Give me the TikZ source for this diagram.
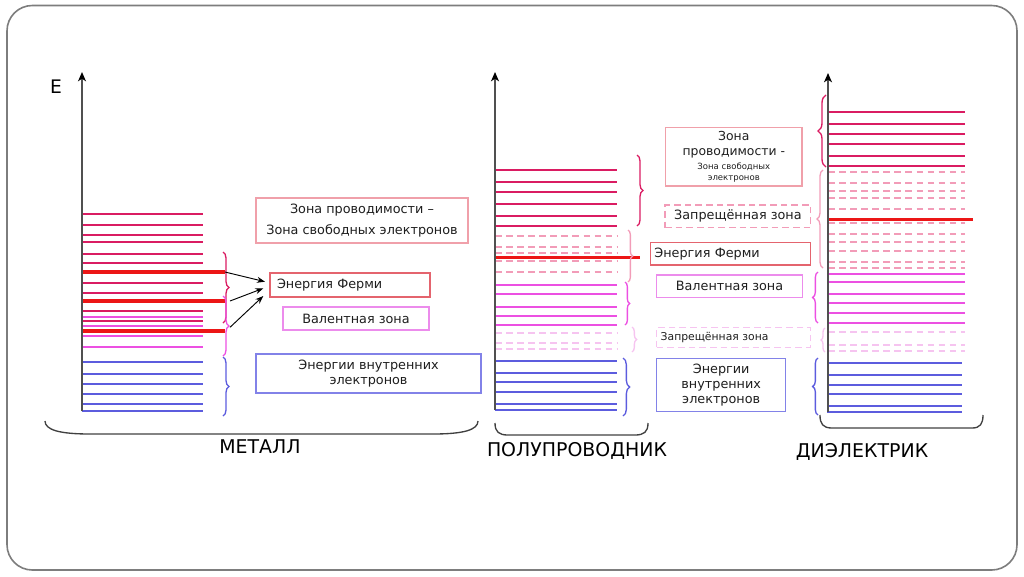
\documentclass[tikz,border=0pt]{standalone}
\usepackage{fontspec}
\setmainfont{DejaVu Sans}
\usetikzlibrary{decorations.pathreplacing,arrows.meta}
\definecolor{crim}{RGB}{218,28,98}
\definecolor{fred}{RGB}{236,22,22}
\definecolor{mag}{RGB}{236,80,226}
\definecolor{lpink}{RGB}{242,156,184}
\definecolor{vlpink}{RGB}{246,196,240}
\definecolor{bluel}{RGB}{92,92,222}
\definecolor{axisc}{RGB}{80,80,80}
\definecolor{framec}{RGB}{125,125,125}
\definecolor{b1c}{RGB}{240,160,170}
\definecolor{bfc}{RGB}{228,100,110}
\definecolor{bvc}{RGB}{236,140,236}
\definecolor{bbc}{RGB}{130,130,232}
\definecolor{txtc}{RGB}{30,30,30}
\begin{document}
\begin{tikzpicture}[x=0.75pt,y=-0.75pt,
  band/.style={line width=1.5pt},
  dband/.style={line width=1.5pt,dash pattern=on 4.9pt off 3.4pt},
  fermi/.style={line width=2.3pt,fred},
  ax/.style={line width=1.1pt,axisc,-{Stealth[length=7pt,width=6pt,inset=2pt,black]}},
  br/.style={line width=1pt,decorate,decoration={brace,amplitude=#1}},
  bk/.style={line width=1pt,black!75},
  arr/.style={line width=0.7pt,black,-{Stealth[length=6pt,width=4.5pt]}},
  box/.style={draw,line width=0.9pt,inner sep=0pt,text=txtc,align=center},
  dbox/.style={box,dash pattern=on 5pt off 3pt},
  lbl/.style={font=\fontsize{14.2}{17}\selectfont,text=black}]
\useasboundingbox (0,0) rectangle (1024,576);
\draw[framec,line width=1.2pt,rounded corners=19pt] (7,5.5) rectangle (1017,570);

% ---------------- METAL ----------------
\foreach \y in {213.7,225.3,235,241.7,253.7,263.3,283,292.7,311,321}
  \draw[band,crim] (82,\y) -- (203,\y);
\foreach \y in {316.7,326,336,347.3}
  \draw[band,mag] (82,\y) -- (203,\y);
\foreach \y in {362,374,383.7,393.7,404.3,411.3}
  \draw[band,bluel] (82,\y) -- (203,\y);
\draw[fermi] (82,272) -- (225,272) coordinate (mf1);
\draw[fermi] (82,301) -- (225,301) coordinate (mf2);
\draw[fermi] (82,331) -- (225,331) coordinate (mf3);
\draw[ax] (82,411.3) coordinate (ma0) -- (82,72) coordinate (ma1);
\node[font=\fontsize{14}{16}\selectfont] (Elbl) at (56,87) {E};
\draw[br=4.5pt,crim] (223,252) -- (223,323);
\draw[br=4.5pt,mag] (223,296) -- (223,356);
\draw[br=4.5pt,bluel] (223,357) -- (223,416);

\node[box,draw=b1c,minimum width=159pt,minimum height=33.75pt,
  font=\fontsize{9.6}{16.2}\selectfont] (mcond) at (362,220.5)
  {Зона проводимости –\\Зона свободных электронов};
\node[box,draw=bfc,minimum width=120pt,minimum height=18pt,
  font=\fontsize{9.6}{11}\selectfont,text width=109.5pt,align=left,inner xsep=5.25pt] (mferm) at (350,285)
  {Энергия Ферми};
\node[box,draw=bvc,minimum width=109.5pt,minimum height=17.25pt,
  font=\fontsize{9.6}{11}\selectfont] (mval) at (356,318.5) {Валентная зона};
\node[box,draw=bbc,minimum width=168.75pt,minimum height=29.25pt,
  font=\fontsize{9.6}{11.25}\selectfont] (minner) at (368.5,373.5)
  {Энергии внутренних\\электронов};
\coordinate (t1) at (265,281.7);
\coordinate (t2) at (263.3,288.3);
\coordinate (t3) at (263.3,296);
\coordinate (s2) at (230,301);
\coordinate (s3) at (230,327.3);
\draw[arr] (mf1) -- (t1);
\draw[arr] (s2) -- (t2);
\draw[arr] (s3) -- (t3);

\draw[bk] (45,421) .. controls (45,430) and (60,434) .. (90,434) -- (433,434)
  .. controls (463,434) and (478,430) .. (478,421);
\node[lbl] (metal) at (260,447) {МЕТАЛЛ};

% ---------------- SEMICONDUCTOR ----------------
\foreach \y in {170,181.7,191.7,204.3,216,225.7}
  \draw[band,crim] (495,\y) -- (617,\y);
\foreach \y in {236,246.7,253.3,261.3,272}
  \draw[dband,lpink] (495,\y) -- (617,\y);
\foreach \y in {285,294.3,306.7,316,325}
  \draw[band,mag] (495,\y) -- (617,\y);
\foreach \y in {332.7,342.7,349.3}
  \draw[dband,vlpink] (495,\y) -- (617,\y);
\foreach \y in {360.7,372.7,382.3,392.3,404,410}
  \draw[band,bluel] (495,\y) -- (617,\y);
\draw[fermi] (495,257.7) -- (640,257.7);
\draw[ax] (495,410) coordinate (sa0) -- (495,72) coordinate (sa1);
\draw[br=4.5pt,crim] (637,155) -- (637,226);
\draw[br=3.5pt,lpink] (628,230) -- (628,282);
\draw[br=3.5pt,mag] (625,282) -- (625,325);
\draw[br=3.5pt,vlpink] (632,327) -- (632,352);
\draw[br=5pt,bluel] (623,358) -- (623,416);

\node[box,draw=b1c,minimum width=102.2pt,minimum height=44pt,font=\fontsize{9.3}{11.8}\selectfont] (scond) at (733.8,156.7)
  {Зона\\проводимости -\\[-1.5pt]{\fontsize{6.4}{7}\selectfont Зона свободных}\\[-3.5pt]{\fontsize{6.4}{7}\selectfont электронов}};
\node[dbox,draw=lpink,minimum width=109.3pt,minimum height=17pt,
  font=\fontsize{9.6}{11}\selectfont] (sgap1) at (737.9,216.3) {Запрещённая зона};
\node[box,draw=bfc,minimum width=120pt,minimum height=16.7pt,
  font=\fontsize{9.6}{11}\selectfont,text width=114.4pt,align=left,inner xsep=2.8pt] (sferm) at (730.7,253.8)
  {Энергия Ферми};
\node[box,draw=bvc,minimum width=109.2pt,minimum height=16.9pt,
  font=\fontsize{9.6}{11}\selectfont] (sval) at (729.5,286.2) {Валентная зона};
\node[dbox,draw=vlpink,minimum width=115.5pt,minimum height=15pt,
  font=\fontsize{8.1}{10}\selectfont,text width=109.5pt,align=left,inner xsep=3pt] (sgap2) at (733.7,337.3) {Запрещённая зона};
\node[box,draw=bbc,minimum width=96.75pt,minimum height=40pt,
  font=\fontsize{9.6}{11.25}\selectfont] (sinner) at (721.2,385)
  {Энергии\\внутренних\\электронов};

\draw[bk] (495,423) .. controls (495,432) and (499,435) .. (508,435) -- (635,435)
  .. controls (644,435) and (648,432) .. (648,423);
\node[lbl] (semi) at (577,451) {ПОЛУПРОВОДНИК};

% ---------------- DIELECTRIC ----------------
\foreach \y in {112.3,124.3,134,144.3,156.3,166}
  \draw[band,crim] (828,\y) -- (965,\y);
\foreach \y in {172.3,183.3,190.7,197.7,209.3,223.3,234,242.3,251,261.7,268.3}
  \draw[dband,lpink] (828,\y) -- (965,\y);
\foreach \y in {274.3,282.3,294,303.3,313.3,322.7}
  \draw[band,mag] (828,\y) -- (965,\y);
\foreach \y in {332.3,345,350.7}
  \draw[dband,vlpink] (828,\y) -- (965,\y);
\foreach \y in {363.3,375,385,394.3,405.7,412.3}
  \draw[band,bluel] (827,\y) -- (962,\y);
\draw[fermi] (828,219.3) -- (973,219.3);
\draw[ax] (828,412.3) coordinate (da0) -- (828,73) coordinate (da1);
\draw[br=6pt,crim] (826,167) -- (826,95);
\draw[br=4.5pt,lpink] (823,268) -- (823,170);
\draw[br=4pt,mag] (818,323) -- (818,272);
\draw[br=3pt,vlpink] (825,352) -- (825,328);
\draw[br=4pt,bluel] (818,415) -- (818,358);

\draw[bk] (820,415) .. controls (820,424) and (823,428) .. (832,428) -- (972,428)
  .. controls (980,428) and (983,424) .. (983,415);
\node[lbl] (diel) at (862,452) {ДИЭЛЕКТРИК};
\end{tikzpicture}
\end{document}
